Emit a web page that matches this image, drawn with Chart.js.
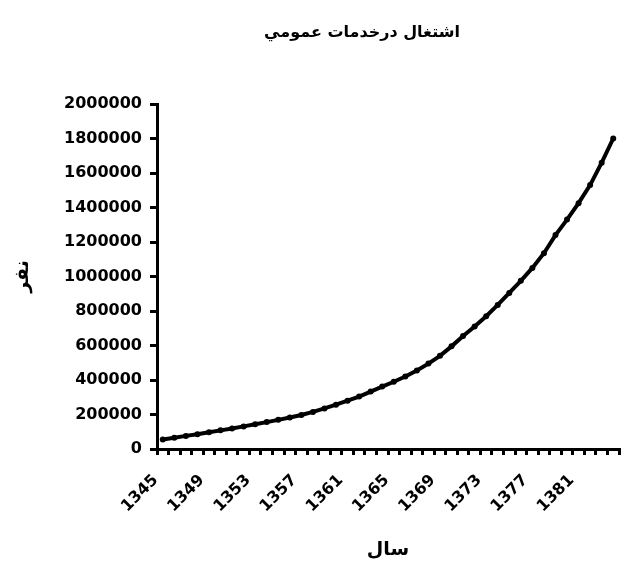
<!DOCTYPE html>
<html>
<head>
<meta charset="utf-8">
<script src="https://cdn.jsdelivr.net/npm/chart.js@4"></script>
<style>
  html, body { margin: 0; padding: 0; background: #fff; }
  #wrap { width: 623px; height: 567px; position: relative; }
</style>
</head>
<body>
<div id="wrap"><canvas id="employChart"></canvas></div>
<script>
// years 1345 .. 1384
const years = [];
for (let y = 1345; y <= 1384; y++) years.push(String(y));

// employed persons
const employed = [
  55000, 65000, 76000, 86000, 97000, 108000, 119000, 131000, 143000, 156000,
  169000, 183000, 197000, 215000, 235000, 257000, 280000, 304000, 333000, 362000,
  390000, 420000, 455000, 495000, 540000, 595000, 655000, 710000, 770000, 835000,
  905000, 975000, 1050000, 1135000, 1240000, 1330000, 1425000, 1530000, 1660000, 1800000
];

const chartTitle = 'اشتغال درخدمات عمومي';
const xTitle = 'سال';
const yTitle = 'نفر';

const FONT = '"DejaVu Sans", sans-serif';

// Title drawn a bit left of the plot centre, like the original
const titlePlugin = {
  id: 'farsiTitle',
  afterDraw(chart) {
    const c = chart.ctx;
    const area = chart.chartArea;
    c.save();
    c.font = 'bold 16px ' + FONT;
    c.fillStyle = '#000';
    c.textAlign = 'center';
    c.textBaseline = 'middle';
    c.fillText(chartTitle, (area.left + area.right) / 2 - 26, 33);
    c.restore();
  }
};

const ctx = document.getElementById('employChart').getContext('2d');

new Chart(ctx, {
  type: 'line',
  data: {
    labels: years,
    datasets: [{
      label: chartTitle,
      data: employed,
      borderColor: '#000',
      backgroundColor: '#000',
      borderWidth: 4,
      pointRadius: 3,
      pointBackgroundColor: '#000',
      pointBorderWidth: 0,
      tension: 0,
      fill: false
    }]
  },
  options: {
    responsive: true,
    maintainAspectRatio: false,
    animation: false,
    layout: {
      padding: { top: 104, right: -4, bottom: 0, left: 0 }
    },
    scales: {
      x: {
        offset: true,
        afterFit: (scale) => {
          scale.height = 118;
          scale.paddingLeft = 0;
          scale.paddingRight = 0;
        },
        grid: {
          offset: true,
          drawOnChartArea: false,
          drawTicks: true,
          tickLength: 6,
          color: '#000',
          lineWidth: 3
        },
        border: { color: '#000', width: 3 },
        ticks: {
          autoSkip: false,
          minRotation: 45,
          maxRotation: 45,
          padding: 16,
          labelOffset: -7,
          color: '#000',
          font: { family: FONT, size: 16, weight: 'bold' },
          callback: function (value, index) {
            return index % 4 === 0 ? this.getLabelForValue(value) : '';
          }
        },
        title: {
          display: true,
          text: xTitle,
          color: '#000',
          font: { family: FONT, size: 19, weight: 'bold' },
          padding: { top: 0, bottom: 6 }
        }
      },
      y: {
        min: 0,
        max: 2000000,
        afterFit: (scale) => { scale.width = 157; },
        grid: {
          drawOnChartArea: false,
          drawTicks: true,
          tickLength: 7,
          color: '#000',
          lineWidth: 3
        },
        border: { color: '#000', width: 3 },
        ticks: {
          stepSize: 200000,
          padding: 8,
          color: '#000',
          font: { family: FONT, size: 16, weight: 'bold' },
          callback: (v) => String(v)
        },
        title: {
          display: true,
          text: yTitle,
          color: '#000',
          font: { family: FONT, size: 19, weight: 'bold' },
          padding: { top: 12, bottom: 0 }
        }
      }
    },
    plugins: {
      legend: { display: false },
      tooltip: { enabled: false }
    }
  },
  plugins: [titlePlugin]
});
</script>
</body>
</html>
